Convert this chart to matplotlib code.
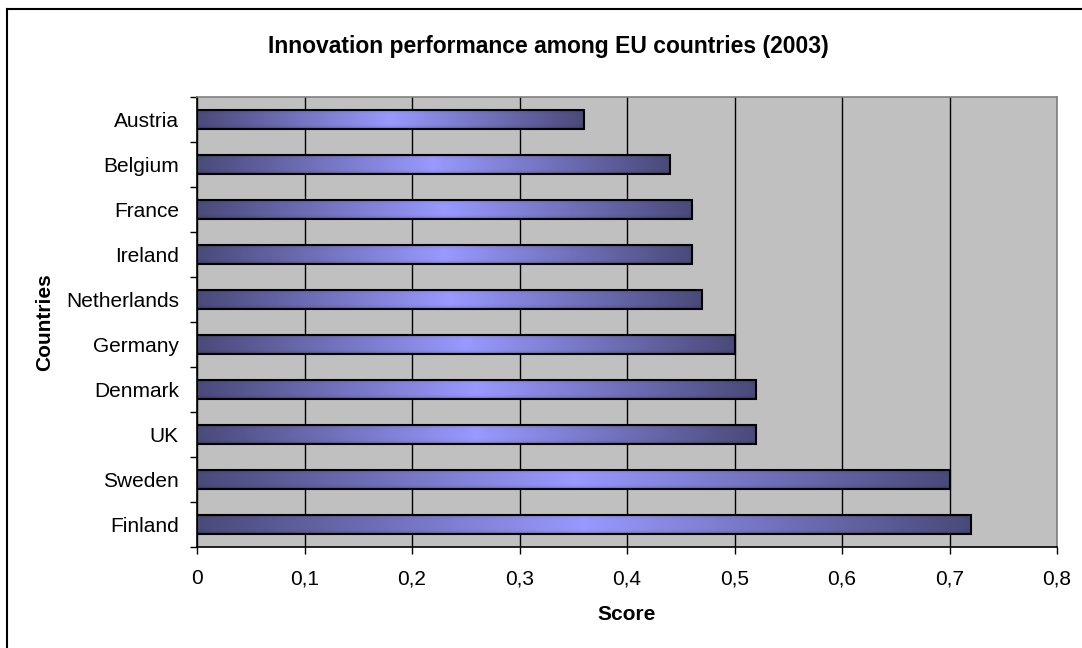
import numpy as np
import matplotlib
matplotlib.use("Agg")
from matplotlib import pyplot as plt
from matplotlib.colors import LinearSegmentedColormap
from matplotlib.lines import Line2D

plt.rcParams['font.family'] = ['Liberation Sans', 'DejaVu Sans']

#%% Données
countries = ['Austria', 'Belgium', 'France', 'Ireland', 'Netherlands',
             'Germany', 'Denmark', 'UK', 'Sweden', 'Finland']
scores = [0.36, 0.44, 0.46, 0.46, 0.47, 0.50, 0.52, 0.52, 0.70, 0.72]
x_ticks = [0, 0.1, 0.2, 0.3, 0.4, 0.5, 0.6, 0.7, 0.8]
x_tick_labels = ['0', '0,1', '0,2', '0,3', '0,4', '0,5', '0,6', '0,7', '0,8']

#%% Figure
W, H = 1082, 648
fig = plt.figure(figsize=(W/100, H/100), dpi=100)
ax = fig.add_axes([197/W, 1 - 547/H, 860/W, 450/H])
ax.set_facecolor('#c0c0c0')

# dégradé horizontal sombre -> clair -> sombre
cmap = LinearSegmentedColormap.from_list(
    'bar', [(0.0, '#4a4a7a'), (0.5, '#9999ff'), (1.0, '#4a4a7a')])
nx, ny = 256, 32
t = np.linspace(0, 1, nx)
v = np.linspace(-1, 1, ny)
rgb = cmap(t)[:, :3]
shade = 1 - 0.3 * np.abs(v) ** 6
grad = rgb[None, :, :] * shade[:, None, None]

bar_h = 0.44
y = np.arange(len(countries))
bars = ax.barh(y, scores, height=bar_h, facecolor='none',
               edgecolor='black', linewidth=1.5, zorder=3)
for b in bars:
    x0, y0 = b.get_x(), b.get_y()
    im = ax.imshow(grad, extent=(x0, x0 + b.get_width(), y0, y0 + b.get_height()),
                   aspect='auto', interpolation='bilinear', zorder=2, origin='lower')
    im.set_clip_path(b)

ax.set_xlim(0, 0.8)
ax.set_ylim(len(countries) - 0.5, -0.5)

# grille verticale
ax.set_xticks(x_ticks)
ax.set_xticklabels(x_tick_labels, fontsize=15)
ax.grid(axis='x', color='black', linewidth=1.0, zorder=1)
ax.set_axisbelow(True)

ax.set_yticks(y)
ax.set_yticklabels(countries, fontsize=15)
ax.set_yticks(np.arange(-0.5, len(countries)), minor=True)
ax.tick_params(axis='y', which='major', length=0, pad=13)
ax.tick_params(axis='y', which='minor', length=5, width=1, direction='out')
ax.tick_params(axis='x', length=5, width=1, direction='out', pad=11)

for s in ['top', 'right']:
    ax.spines[s].set_color('#808080')
    ax.spines[s].set_linewidth(1.2)
for s in ['left', 'bottom']:
    ax.spines[s].set_color('black')
    ax.spines[s].set_linewidth(1.2)

fig.text(627/W, 1 - 614/H, 'Score', fontsize=15, fontweight='bold',
         ha='center', va='center')
fig.text(45/W, 1 - 322/H, 'Countries', fontsize=15, fontweight='bold',
         ha='center', va='center', rotation=90)
fig.text(548/W, 1 - 47/H, 'Innovation performance among EU countries (2003)',
         fontsize=16.5, fontweight='bold', ha='center', va='center')

# cadre du graphique
fig.add_artist(Line2D([7/W, 7/W], [0, 1 - 9/H], color='black', linewidth=1.5,
                      transform=fig.transFigure))
fig.add_artist(Line2D([7/W, 1], [1 - 9/H, 1 - 9/H], color='black', linewidth=1.5,
                      transform=fig.transFigure))

fig.savefig('out.png', dpi=100)
